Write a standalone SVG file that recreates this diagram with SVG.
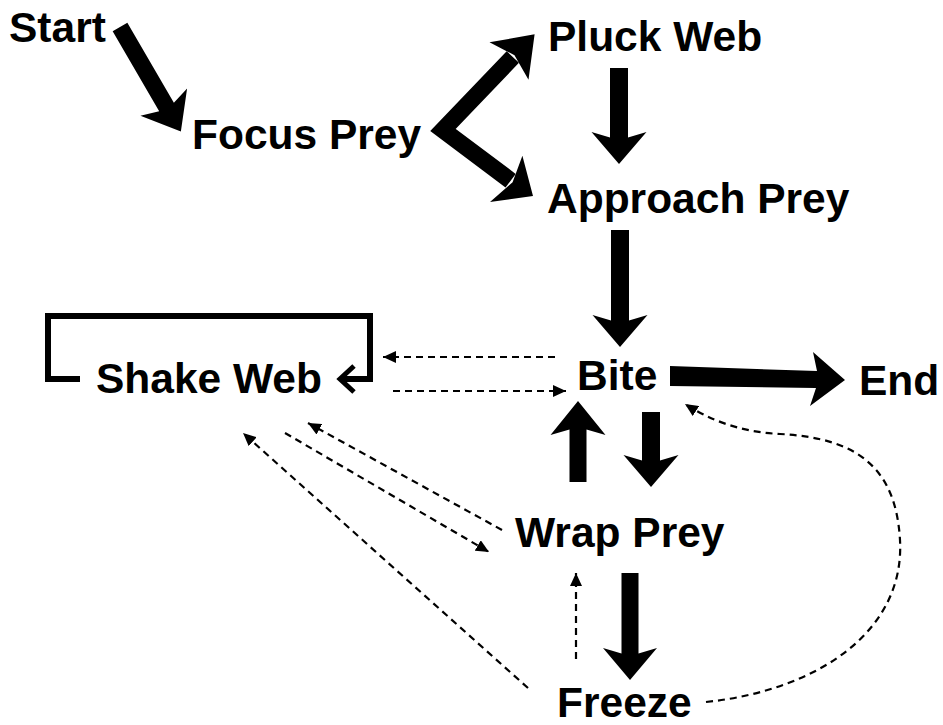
<svg xmlns="http://www.w3.org/2000/svg" width="943" height="725" viewBox="0 0 943 725">
<style>
.lbl{font-family:"Liberation Sans",Arial,sans-serif;font-weight:bold;font-size:42.5px;fill:#000}
.blk{fill:#000;stroke:none}
.dash{fill:none;stroke:#000;stroke-width:2.2;stroke-dasharray:7 5;marker-end:url(#ah)}
</style>
<defs>
<marker id="ah" markerUnits="userSpaceOnUse" markerWidth="14" markerHeight="12" refX="13" refY="6" orient="auto">
<path d="M0,0 L13,6 L0,12 Z" fill="#000"/>
</marker>
</defs>
<rect width="943" height="725" fill="#fff"/>
<g id="connectors">
<!-- Start -> Focus Prey -->
<path class="blk" transform="translate(120,27) rotate(59.8)" d="M0,-8.5 H92.5 L87,-27 L121,0 L87,27 L92.5,8.5 H0 Z"/>
<!-- Focus Prey -> Pluck Web / Approach Prey (V) -->
<polyline points="512.8,57 443,130 510.6,180.7" fill="none" stroke="#000" stroke-width="17" stroke-linejoin="miter" stroke-miterlimit="10"/>
<polygon class="blk" points="489.5,42.3 534.6,34.3 528.5,79.7 514.5,55.2"/>
<polygon class="blk" points="522.4,155.8 533,196 490,202 512.6,182.2"/>
<!-- Pluck Web -> Approach Prey -->
<path class="blk" transform="translate(619,68) rotate(90)" d="M0,-9 H69.4 L64,-27.5 L96,0 L64,27.5 L69.4,9 H0 Z"/>
<!-- Approach Prey -> Bite -->
<path class="blk" transform="translate(620,230) rotate(90)" d="M0,-9 H90.4 L85,-27.5 L117,0 L85,27.5 L90.4,9 H0 Z"/>
<!-- Bite -> End -->
<polygon class="blk" points="670,366 817,371 813,352 845,380 810,406 816,388 670,386"/>
<!-- Wrap Prey -> Bite -->
<path class="blk" transform="translate(578,482) rotate(-90)" d="M0,-8.5 H52.4 L47,-27.5 L81,0 L47,27.5 L52.4,8.5 H0 Z"/>
<!-- Bite -> Wrap Prey -->
<path class="blk" transform="translate(651,412) rotate(90)" d="M0,-9 H48.4 L43,-27.5 L75,0 L43,27.5 L48.4,9 H0 Z"/>
<!-- Wrap Prey -> Freeze -->
<path class="blk" transform="translate(630,573) rotate(90)" d="M0,-8.5 H80.4 L75,-27 L107,0 L75,27 L80.4,8.5 H0 Z"/>
<!-- Shake Web self loop -->
<path d="M80,379 H48 V316 H370 V379 H342" fill="none" stroke="#000" stroke-width="6" stroke-linejoin="miter"/>
<polyline points="354,366 340,379 354,392" fill="none" stroke="#000" stroke-width="5"/>
<!-- dashed -->
<line class="dash" x1="555" y1="357" x2="383" y2="357"/>
<line class="dash" x1="393" y1="391" x2="566" y2="391"/>
<line class="dash" x1="502" y1="530" x2="308" y2="423"/>
<line class="dash" x1="285" y1="433" x2="489" y2="552"/>
<line class="dash" x1="528" y1="688" x2="243" y2="433"/>
<line class="dash" x1="576" y1="659" x2="576" y2="573"/>
<path class="dash" d="M706,702 C820,690 905,630 900,540 C896,470 860,438 780,434 C740,432 710,420 685,404"/>
</g>
<g id="node-start"><text class="lbl" x="9" y="42">Start</text></g>
<g id="node-focus"><text class="lbl" x="192" y="149">Focus Prey</text></g>
<g id="node-pluck"><text class="lbl" x="548" y="51">Pluck Web</text></g>
<g id="node-approach"><text class="lbl" x="547" y="213">Approach Prey</text></g>
<g id="node-shake"><text class="lbl" x="96" y="393">Shake Web</text></g>
<g id="node-bite"><text class="lbl" x="577" y="390">Bite</text></g>
<g id="node-end"><text class="lbl" x="859" y="395">End</text></g>
<g id="node-wrap"><text class="lbl" x="515" y="547">Wrap Prey</text></g>
<g id="node-freeze"><text class="lbl" x="557" y="717">Freeze</text></g>
</svg>
